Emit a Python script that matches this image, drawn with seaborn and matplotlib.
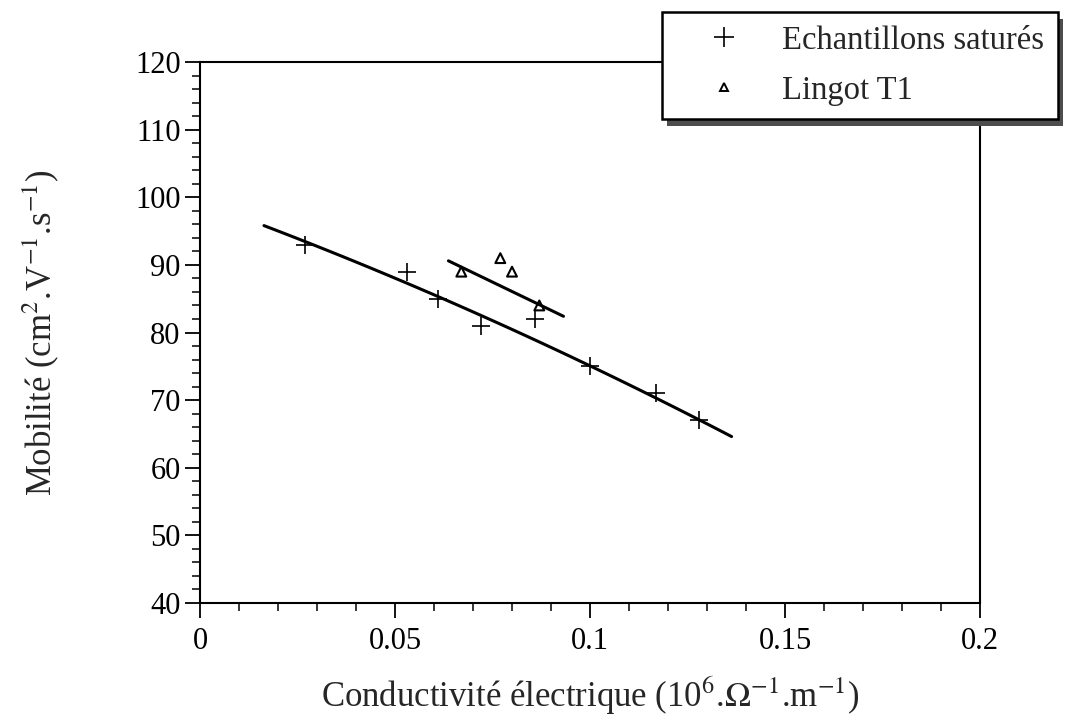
import numpy as np
import seaborn as sns
import matplotlib.pyplot as plt
from matplotlib.lines import Line2D
from matplotlib.patches import Rectangle
from matplotlib.ticker import MultipleLocator

# Echantillons saturés
sat_x = [0.027, 0.053, 0.061, 0.072, 0.086, 0.100, 0.117, 0.128]
sat_y = [93, 89, 85, 81, 82, 75, 71, 67]

# Lingot T1
t1_x = [0.067, 0.077, 0.080, 0.087]
t1_y = [89, 91, 89, 84]

# hand-drawn trend curves, points read along them
curve_sat_x = [0.0164, 0.040, 0.0607, 0.080, 0.100, 0.1162, 0.1363]
curve_sat_y = [95.7, 90.8, 85.2, 80.2, 75.0, 71.0, 64.4]
curve_t1_x = [0.0637, 0.0932]
curve_t1_y = [90.6, 82.4]

sns.set_theme(style="ticks")
plt.rcParams['font.family'] = ['Liberation Serif', 'DejaVu Serif']
plt.rcParams['mathtext.fontset'] = 'stix'

fig = plt.figure(figsize=(10.65, 7.22), dpi=100)
ax = fig.add_axes([0.1878, 0.1648, 0.7324, 0.7493])

# smooth the saturated-sample curve with a quadratic through the read points
coef = np.polyfit(curve_sat_x, curve_sat_y, 2)
xs = np.linspace(curve_sat_x[0], curve_sat_x[-1], 100)
sns.lineplot(x=xs, y=np.polyval(coef, xs), color="black", linewidth=2.2, ax=ax)
sns.lineplot(x=curve_t1_x, y=curve_t1_y, color="black", linewidth=2.2, ax=ax)

sns.scatterplot(x=sat_x, y=sat_y, marker="+", s=150, color="black", linewidth=1.2, ax=ax, zorder=3)
sns.scatterplot(x=t1_x, y=t1_y, marker="^", s=50, facecolor="none", edgecolor="black",
                linewidth=1.5, ax=ax, zorder=3)

ax.set_xlim(0, 0.2)
ax.set_ylim(40, 120)
ax.xaxis.set_minor_locator(MultipleLocator(0.01))
ax.yaxis.set_major_locator(MultipleLocator(10))
ax.yaxis.set_minor_locator(MultipleLocator(2))
ax.set_xticks([0, 0.05, 0.1, 0.15, 0.2])
ax.set_xticklabels(["0", "0.05", "0.1", "0.15", "0.2"])

for s in ax.spines.values():
    s.set_linewidth(1.5)
    s.set_color("black")
ax.tick_params(which="major", direction="out", length=11, width=1.3, labelsize=22, colors="black")
ax.tick_params(which="minor", direction="out", length=6, width=1.3)
ax.tick_params(axis="x", pad=6)
ax.tick_params(axis="y", pad=3)

ax.set_xlabel("Conductivité électrique (10$^{6}$.$\\Omega^{-1}$.m$^{-1}$)", fontsize=25)
ax.set_ylabel("Mobilité (cm$^{2}$.V$^{-1}$.s$^{-1}$)", fontsize=25)
ax.xaxis.set_label_coords(0.5, -0.133)
ax.yaxis.set_label_coords(-0.178, 0.5)

handles = [
    Line2D([], [], marker="+", linestyle="none", color="black", markersize=14, markeredgewidth=1.2),
    Line2D([], [], marker="^", linestyle="none", markerfacecolor="none", markeredgecolor="black",
           markersize=6, markeredgewidth=1.4),
]
leg = fig.legend(handles, ["Echantillons saturés", "Lingot T1"], loc="upper right",
                 bbox_to_anchor=(0.993, 0.983), fontsize=23.5, frameon=True, fancybox=False,
                 shadow=False, borderpad=0.4, labelspacing=0.6,
                 handletextpad=0.3, handlelength=3.0, borderaxespad=0)
leg.get_frame().set_edgecolor("black")
leg.get_frame().set_linewidth(1.8)
leg.get_frame().set_alpha(1)

# dark offset shadow behind the legend box
fig.canvas.draw()
bb = leg.get_window_extent()
fig.patches.append(Rectangle((bb.x0 + 5, bb.y0 - 7), bb.width, bb.height, transform=None,
                             facecolor="0.3", edgecolor="none", zorder=4, figure=fig))

plt.savefig("out.png", dpi=100)
